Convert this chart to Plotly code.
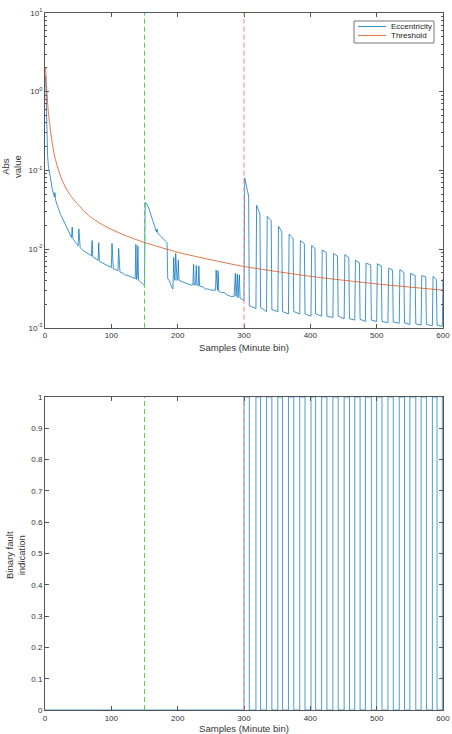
import plotly.graph_objects as go

# ---------------- data ----------------
# Threshold curve samples
thr_x = [1, 2, 3, 5, 7.5, 10, 15, 22.6, 30, 37.7, 45, 58, 68, 90, 118, 150, 200, 250, 300, 400, 500, 600]
thr_y = [2.0, 1.25, 0.95, 0.55, 0.36, 0.25, 0.145, 0.088, 0.063, 0.049, 0.041, 0.031, 0.0258,
         0.0196, 0.0152, 0.0121, 0.0091, 0.0073, 0.006, 0.0045, 0.0036, 0.003]

# Eccentricity, healthy part (samples 1-150)
ecc1_x = [1, 1.5, 2, 3, 4, 5, 7, 9, 11, 13, 14, 15, 16, 18, 20, 23, 26, 30, 34, 38, 40, 41, 42, 45,
          48, 50, 51, 52, 53, 56, 60, 65, 70, 71, 72, 75, 80, 81, 82, 86, 90, 95, 100, 101, 102,
          103, 106, 110, 111, 112, 113, 116, 120, 125, 130, 134, 136, 137, 138, 139, 140, 141,
          143, 146, 149, 150]
ecc1_y = [1.6, 0.9, 0.45, 0.22, 0.15, 0.115, 0.09, 0.07, 0.058, 0.05, 0.046, 0.052, 0.042, 0.037,
          0.032, 0.028, 0.025, 0.021, 0.018, 0.0155, 0.014, 0.019, 0.0135, 0.0125, 0.0115, 0.011,
          0.018, 0.0115, 0.0105, 0.0098, 0.0092, 0.0087, 0.0082, 0.0128, 0.008, 0.0077, 0.0072,
          0.012, 0.007, 0.0067, 0.0064, 0.006, 0.0058, 0.0118, 0.0057, 0.0056, 0.0055, 0.0053,
          0.0102, 0.0052, 0.0051, 0.005, 0.0047, 0.0046, 0.0044, 0.0042, 0.0042, 0.0115, 0.0041,
          0.0042, 0.011, 0.004, 0.0039, 0.0037, 0.0035, 0.0034]

# Eccentricity, second part (samples 151-300)
ecc2_x = [151, 153, 156, 159, 162, 164, 166, 168, 169, 170, 173, 176, 179, 182, 184, 185, 187,
          189, 191, 192.5, 193, 194, 195, 196, 197, 198, 199, 200, 201, 202, 205, 210, 215, 220,
          223, 224, 225, 227, 228, 229, 231, 232, 233, 238, 242, 246, 250, 255, 257, 258, 259,
          260, 261, 262, 266, 270, 275, 280, 285, 287, 288, 290, 291, 293, 294, 297, 300]
ecc2_y = [0.039, 0.038, 0.034, 0.028, 0.023, 0.021, 0.019, 0.0165, 0.018, 0.016, 0.015, 0.014,
          0.013, 0.0125, 0.012, 0.0042, 0.004, 0.0037, 0.0033, 0.0031, 0.0034, 0.0078, 0.0045,
          0.004, 0.0088, 0.0045, 0.004, 0.0041, 0.0072, 0.004, 0.0039, 0.0037, 0.0036, 0.0035,
          0.0035, 0.0064, 0.0035, 0.0035, 0.0062, 0.0035, 0.0034, 0.0061, 0.0034, 0.0033, 0.0031,
          0.0031, 0.003, 0.003, 0.003, 0.0054, 0.003, 0.003, 0.0053, 0.0029, 0.0028, 0.0028,
          0.0026, 0.0025, 0.0025, 0.0049, 0.0025, 0.0048, 0.0024, 0.0047, 0.0024, 0.0023, 0.0022]

# Fault part: pulse edges (samples) and levels
pulse_rise = [300, 318, 334, 351, 367, 384, 401, 417, 434, 451, 467, 483, 500, 517, 534, 550, 567, 584, 599]
pulse_fall = [308, 325, 342, 358, 375, 392, 408, 425, 442, 459, 475, 492, 508, 525, 542, 559, 575, 591]
pulse_top_start = [0.08, 0.036, 0.026, 0.0195, 0.0155, 0.0128, 0.0111, 0.0097, 0.0088, 0.0085,
                   0.0072, 0.0066, 0.0065, 0.0057, 0.0055, 0.0049, 0.0046, 0.0045, 0.0042]
pulse_top_end = [0.047, 0.028, 0.023, 0.0165, 0.0135, 0.0117, 0.0102, 0.009, 0.0081, 0.0078,
                 0.0067, 0.0063, 0.0061, 0.0054, 0.005, 0.0046, 0.0044, 0.0041, 0.0042]
low_start = [0.0019, 0.0018, 0.0017, 0.0016, 0.0016, 0.0015, 0.0015, 0.0014, 0.0014, 0.0013,
             0.00128, 0.00125, 0.0012, 0.00118, 0.00115, 0.00112, 0.0011, 0.00108]
low_end = [0.00175, 0.0016, 0.0016, 0.0015, 0.0015, 0.0014, 0.0014, 0.00135, 0.0013, 0.00125,
           0.0012, 0.0012, 0.00116, 0.00114, 0.0011, 0.00108, 0.00106, 0.00104]

series_names = ["Eccentricity", "Threshold"]
x_ticks = [0, 100, 200, 300, 400, 500, 600]
log_ticks = [0.001, 0.01, 0.1, 1, 10]
log_tick_text = ["10<sup>-3</sup>", "10<sup>-2</sup>", "10<sup>-1</sup>", "10<sup>0</sup>", "10<sup>1</sup>"]
bin_ticks = [0, 0.1, 0.2, 0.3, 0.4, 0.5, 0.6, 0.7, 0.8, 0.9, 1]
bin_tick_text = ["0", "0.1", "0.2", "0.3", "0.4", "0.5", "0.6", "0.7", "0.8", "0.9", "1"]

# ---------------- build traces ----------------
ecc_x = list(ecc1_x) + list(ecc2_x)
ecc_y = list(ecc1_y) + list(ecc2_y)
n = len(pulse_rise)
for k in range(n):
    if k > 0:
        ecc_x.append(pulse_rise[k]); ecc_y.append(low_end[k - 1])
    if k < len(pulse_fall):
        ecc_x += [pulse_rise[k] + 1, pulse_fall[k] - 1, pulse_fall[k]]
        ecc_y += [pulse_top_start[k], pulse_top_end[k], low_start[k]]
    else:
        ecc_x += [600]
        ecc_y += [pulse_top_start[k]]

bin_x = [0]
bin_y = [0]
for k in range(n):
    bin_x += [pulse_rise[k], pulse_rise[k]]
    bin_y += [0, 1]
    if k < len(pulse_fall):
        bin_x += [pulse_fall[k], pulse_fall[k]]
        bin_y += [1, 0]
bin_x.append(600)
bin_y.append(1)

BLUE = "#0072BD"
ORANGE = "#D95319"
GREEN = "#55d055"
RED = "#ee8888"
AX = "#555555"
TXT = "#333333"
FONT = "Liberation Sans, Arial, sans-serif"

fig = go.Figure()
fig.add_trace(go.Scatter(x=ecc_x, y=ecc_y, mode="lines", name=series_names[0], showlegend=False,
                         line=dict(color=BLUE, width=0.75), xaxis="x", yaxis="y"))
fig.add_trace(go.Scatter(x=thr_x, y=thr_y, mode="lines", name=series_names[1], showlegend=False,
                         line=dict(color=ORANGE, width=0.8, shape="spline", smoothing=0.6),
                         xaxis="x", yaxis="y"))
fig.add_trace(go.Scatter(x=bin_x, y=bin_y, mode="lines", name="Binary", showlegend=False,
                         line=dict(color=BLUE, width=0.7), xaxis="x2", yaxis="y2"))

shapes = []
for xr, yr in [("x", "y domain"), ("x2", "y2 domain")]:
    shapes.append(dict(type="line", xref=xr, yref=yr, x0=150, x1=150, y0=0, y1=1,
                       line=dict(color=GREEN, width=1, dash="5px,3px")))
    shapes.append(dict(type="line", xref=xr, yref=yr, x0=300, x1=300, y0=0, y1=1,
                       line=dict(color=RED, width=1, dash="5px,3px")))

# ---- compact MATLAB-style legend box (positions in figure pixels) ----
L, T, B = 45, 13, 24
PW, PH = 452 - L - 9, 734 - T - B
def px(xp):
    return (xp - L) / PW
def py(yp):
    return 1 - (yp - T) / PH

shapes.append(dict(type="rect", xref="paper", yref="paper", x0=px(354), x1=px(434), y0=py(43), y1=py(21),
                   line=dict(color="#777777", width=1), fillcolor="white", layer="above"))
legend_colors = [BLUE, ORANGE]
legend_rows = [26.5, 35.5]
annotations = []
for name, col, yy in zip(series_names, legend_colors, legend_rows):
    shapes.append(dict(type="line", xref="paper", yref="paper", x0=px(358), x1=px(386), y0=py(yy), y1=py(yy),
                       line=dict(color=col, width=0.8), layer="above"))
    annotations.append(dict(text=name, xref="paper", yref="paper", x=px(389), y=py(yy),
                            xanchor="left", yanchor="middle", showarrow=False,
                            font=dict(size=8, color="#222222", family=FONT)))

annotations += [
    dict(text="Abs<br>value", xref="paper", yref="paper", x=px(11), y=py(167),
         textangle=-90, showarrow=False, font=dict(size=9.5, color=TXT, family=FONT),
         xanchor="center", yanchor="middle"),
    dict(text="Binary fault<br>indication", xref="paper", yref="paper", x=px(15), y=py(555),
         textangle=-90, showarrow=False, font=dict(size=9.5, color=TXT, family=FONT),
         xanchor="center", yanchor="middle"),
]

minor_vals = [m * 10 ** e for e in range(-3, 1) for m in range(2, 10)]

common_x = dict(range=[0, 600], tickvals=x_ticks, ticks="inside", ticklen=4, tickcolor=AX,
                showline=True, linecolor=AX, linewidth=1, mirror="allticks", showgrid=False,
                zeroline=False, tickfont=dict(size=8, color=TXT, family=FONT),
                title=dict(text="Samples (Minute bin)", font=dict(size=9.5, color=TXT, family=FONT),
                           standoff=5),
                automargin=False)

fig.update_layout(
    width=452, height=734,
    margin=dict(l=L, r=9, t=T, b=B),
    paper_bgcolor="white", plot_bgcolor="white",
    font=dict(family=FONT, color=TXT),
    showlegend=False,
    xaxis=dict(domain=[0, 1], anchor="y", **common_x),
    yaxis=dict(domain=[py(327.7), 1], anchor="x", type="log", range=[-3, 1],
               tickvals=log_ticks, ticktext=log_tick_text, ticks="inside", ticklen=4,
               tickcolor=AX, showline=True, linecolor=AX, linewidth=1, mirror="allticks",
               showgrid=False, zeroline=False, tickfont=dict(size=8, color=TXT, family=FONT),
               minor=dict(tickvals=minor_vals, ticks="inside", ticklen=2, tickcolor=AX,
                          showgrid=False),
               automargin=False),
    xaxis2=dict(domain=[0, 1], anchor="y2", **common_x),
    yaxis2=dict(domain=[0, py(397)], anchor="x2", range=[0, 1], tickvals=bin_ticks,
                ticktext=bin_tick_text, ticks="inside", ticklen=4, tickcolor=AX,
                showline=True, linecolor=AX, linewidth=1, mirror="allticks", showgrid=False,
                zeroline=False, tickfont=dict(size=8, color=TXT, family=FONT),
                automargin=False),
    shapes=shapes,
    annotations=annotations,
)

fig.write_html("out.html")
